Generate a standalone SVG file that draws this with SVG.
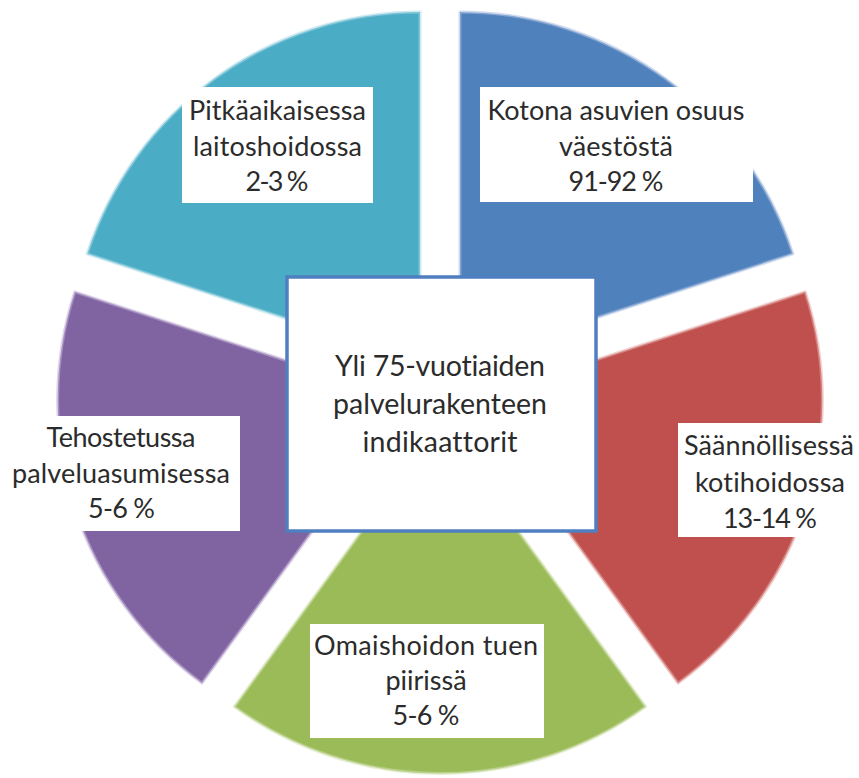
<svg xmlns="http://www.w3.org/2000/svg" width="859" height="778" viewBox="0 0 859 778">
<style>
  .slice { stroke-width: 3; stroke-opacity: 0.55; stroke-linejoin: round; }
  .lbl { fill: #ffffff; }
  .t { font-family: Lato, "Liberation Sans", sans-serif; font-size: 27px; fill: #2b2b2b; text-anchor: middle; font-variant-ligatures: none; font-feature-settings: "liga" 0, "clig" 0; }
  .tc { font-size: 28.5px; }
  .center { fill: #ffffff; stroke: #4f7fc0; stroke-width: 3.5; }
</style>
<rect width="859" height="778" fill="#ffffff"/>
<g id="slices">
  <g id="slice-blue">
    <path class="slice" d="M460,362 L460,12 A350,350 0 0 1 792.87,253.84 Z" fill="#4f81bd" stroke="#a9c0e0"/>
  </g>
  <g id="slice-red">
    <path class="slice" d="M472.34,400 L805.21,291.85 A350,350 0 0 1 678.06,683.16 Z" fill="#c0504d" stroke="#e3aaa8"/>
  </g>
  <g id="slice-green">
    <path class="slice" d="M440,423.5 L645.72,706.65 A350,350 0 0 1 234.28,706.65 Z" fill="#9bbb59" stroke="#cfe0ad"/>
  </g>
  <g id="slice-purple">
    <path class="slice" d="M407.66,400 L201.94,683.16 A350,350 0 0 1 74.79,291.85 Z" fill="#8064a2" stroke="#c2b3d5"/>
  </g>
  <g id="slice-cyan">
    <path class="slice" d="M420.02,362 L87.15,253.84 A350,350 0 0 1 420.02,12 Z" fill="#4bacc6" stroke="#a7d8e5"/>
  </g>
</g>
<g id="connectors"></g>
<g id="node-center">
  <rect class="center" x="287" y="277" width="309" height="254"/>
  <text class="t tc" x="440" y="376" textLength="210">Yli 75-vuotiaiden</text>
  <text class="t tc" x="440" y="414" textLength="214">palvelurakenteen</text>
  <text class="t tc" x="440" y="452" textLength="155">indikaattorit</text>
</g>
<g id="node-pitkaaikainen">
  <rect class="lbl" x="182" y="87" width="191" height="116"/>
  <text class="t" x="277.5" y="120" textLength="177">Pitkäaikaisessa</text>
  <text class="t" x="277.5" y="155.5" textLength="169">laitoshoidossa</text>
  <text class="t" x="277" y="191" textLength="63">2-3 %</text>
</g>
<g id="node-kotona">
  <rect class="lbl" x="480" y="87" width="273" height="115"/>
  <text class="t" x="616" y="120" textLength="257">Kotona asuvien osuus</text>
  <text class="t" x="616" y="155.5" textLength="114">väestöstä</text>
  <text class="t" x="616" y="191" textLength="95">91-92 %</text>
</g>
<g id="node-tehostettu">
  <rect class="lbl" x="2" y="416" width="238" height="115"/>
  <text class="t" x="121" y="447" textLength="149">Tehostetussa</text>
  <text class="t" x="121" y="483" textLength="218">palveluasumisessa</text>
  <text class="t" x="121.5" y="518" textLength="67">5-6 %</text>
</g>
<g id="node-kotihoito">
  <rect class="lbl" x="678" y="423" width="185" height="114"/>
  <text class="t" x="769" y="455" textLength="170">Säännöllisessä</text>
  <text class="t" x="770" y="492" textLength="150">kotihoidossa</text>
  <text class="t" x="770" y="528" textLength="94">13-14 %</text>
</g>
<g id="node-omaishoito">
  <rect class="lbl" x="310" y="624" width="234" height="114"/>
  <text class="t" x="426" y="655" textLength="224">Omaishoidon tuen</text>
  <text class="t" x="426" y="690">piirissä</text>
  <text class="t" x="426" y="725" textLength="67">5-6 %</text>
</g>
</svg>
